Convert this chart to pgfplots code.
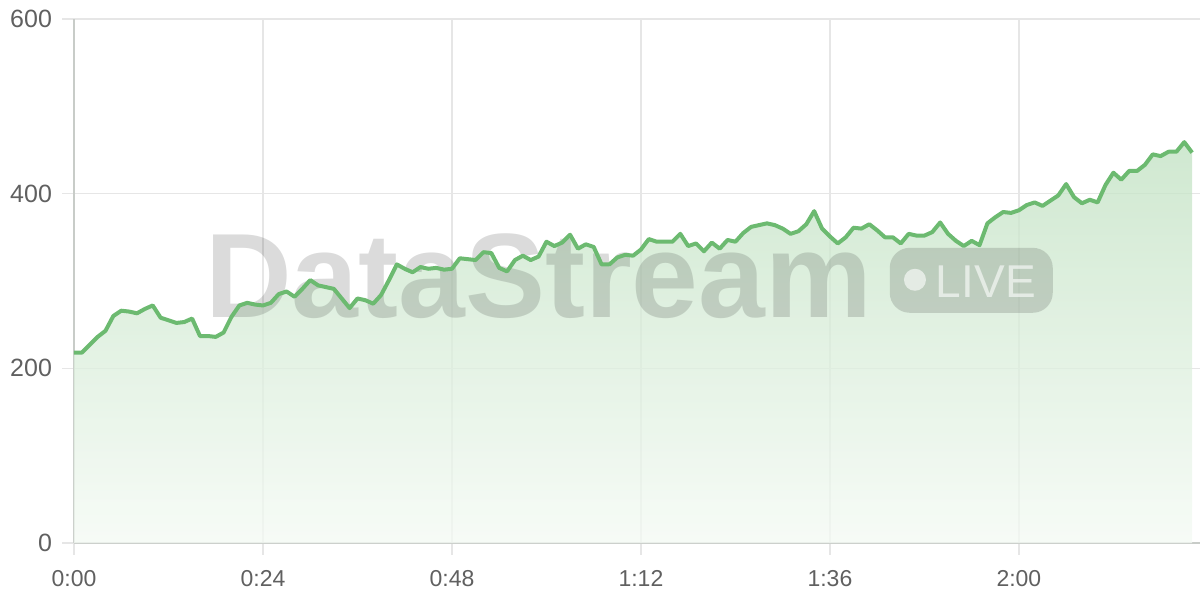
\documentclass[border=0pt]{standalone}
\usepackage{fontspec}
\setmainfont{Liberation Sans}
\usepackage{pgfplots}
\usepackage{pgfplotstable}
\pgfplotsset{compat=1.18}

\definecolor{linegreen}{RGB}{108,186,112}
\definecolor{filltop}{RGB}{194,226,195}
\definecolor{fillbot}{RGB}{244,250,244}
\definecolor{gridgray}{RGB}{230,230,230}
\definecolor{axisgray}{RGB}{200,204,200}
\definecolor{ticktext}{RGB}{96,96,96}

% one value per minute, 0:00 .. 2:22
\pgfplotstableread{
t v
0 218
1 218
2 227
3 236
4 243
5 260
6 266
7 265
8 263
9 268
10 272
11 258
12 255
13 252
14 253
15 257
16 237
17 237
18 236
19 241
20 259
21 272
22 275
23 273
24 272
25 275
26 285
27 288
28 282
29 291
30 301
31 295
32 293
33 291
34 280
35 269
36 280
37 278
38 274
39 284
40 301
41 319
42 314
43 310
44 316
45 314
46 315
47 313
48 314
49 326
50 325
51 324
52 333
53 332
54 315
55 311
56 324
57 329
58 324
59 328
60 345
61 340
62 344
63 353
64 337
65 342
66 339
67 319
68 319
69 327
70 330
71 329
72 336
73 348
74 345
75 345
76 345
77 354
78 340
79 343
80 334
81 344
82 337
83 347
84 345
85 355
86 362
87 364
88 366
89 364
90 360
91 354
92 357
93 365
94 380
95 360
96 351
97 343
98 350
99 361
100 360
101 365
102 358
103 350
104 350
105 343
106 354
107 352
108 352
109 356
110 367
111 354
112 346
113 340
114 346
115 341
116 366
117 373
118 379
119 378
120 381
121 387
122 390
123 386
124 392
125 398
126 411
127 396
128 389
129 393
130 390
131 410
132 424
133 416
134 426
135 426
136 433
137 445
138 443
139 448
140 448
141 459
142 447
}\stream

\begin{document}
\begin{tikzpicture}
\begin{axis}[
  scale only axis,
  width=563pt, height=262pt,
  xmin=0, xmax=143, ymin=0, ymax=600,
  axis x line=bottom, axis y line=left,
  axis line style={-, draw=axisgray, line width=0.7pt},
  xtick={0,24,48,72,96,120},
  xticklabels={0:00,0:24,0:48,1:12,1:36,2:00},
  ytick={0,200,400,600},
  grid=major,
  major grid style={draw=gridgray, line width=0.6pt},
  tick align=outside,
  major tick length=6pt,
  tick style={draw=gridgray, line width=0.6pt},
  tick label style={text=ticktext},
  xticklabel style={font=\fontsize{11.5}{13}\selectfont, yshift=-4pt},
  yticklabel style={font=\fontsize{12.5}{14}\selectfont, xshift=-1.5pt},
  /pgf/number format/assume math mode=true,
  clip=false,
]
  \addplot[draw=none, top color=filltop, bottom color=fillbot, fill opacity=0.78, forget plot]
    table[x=t, y=v] {\stream} \closedcycle;

  % watermark
  \node[anchor=base, text=black, opacity=0.14, font=\fontsize{60}{60}\bfseries]
    at (axis cs:59,258) {DataStream};
  \fill[black, opacity=0.14, rounded corners=10pt]
    (axis cs:103.6,263.6) rectangle (axis cs:124.3,338);
  \fill[white, opacity=0.6] (axis cs:106.8,301.4) circle[radius=5.5pt];
  \node[anchor=base, text=white, opacity=0.6, font=\fontsize{23}{23}\selectfont]
    at (axis cs:115.8,280.8) {LIVE};

  \addplot[linegreen, line width=2pt, line join=round, mark=none]
    table[x=t, y=v] {\stream};
\end{axis}
\pgfresetboundingbox
\path (-37pt,-28.5pt) rectangle (563pt,271.5pt);
\end{tikzpicture}
\end{document}
